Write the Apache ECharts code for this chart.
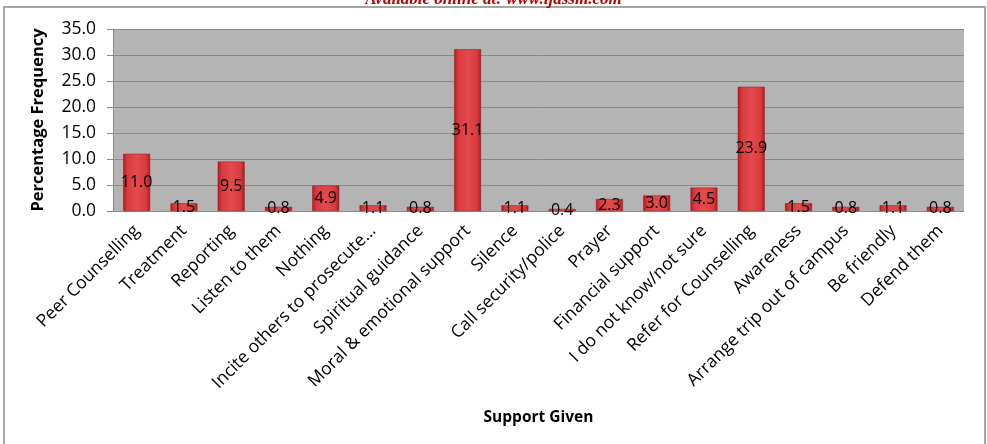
<!DOCTYPE html>
<html lang="en">
<head>
    <meta charset="UTF-8">
    <title>Support Given</title>
    <script src="https://cdnjs.cloudflare.com/ajax/libs/echarts/6.0.0/echarts.min.js"></script>
    <style>
        body { margin: 0; background: #fff; }
        #chart { width: 987px; height: 444px; }
    </style>
</head>
<body>
    <div id="chart"></div>
    <script>
        // categories and percentages
        const categories = [
            'Peer Counselling', 'Treatment', 'Reporting', 'Listen to them', 'Nothing',
            'Incite others to prosecute…', 'Spiritual guidance', 'Moral & emotional support',
            'Silence', 'Call security/police', 'Prayer', 'Financial support',
            'I do not know/not sure', 'Refer for Counselling', 'Awareness',
            'Arrange trip out of campus', 'Be friendly', 'Defend them'
        ];
        const values = [11.0, 1.5, 9.5, 0.8, 4.9, 1.1, 0.8, 31.1, 1.1, 0.4, 2.3, 3.0, 4.5, 23.9, 1.5, 0.8, 1.1, 0.8];

        const chart = echarts.init(document.getElementById('chart'));
        const font = '"Open Sans", Lato, sans-serif';

        const barColor = new echarts.graphic.LinearGradient(0, 0, 1, 0, [
            { offset: 0, color: '#a81c20' },
            { offset: 0.15, color: '#d93a3d' },
            { offset: 0.5, color: '#e24a4c' },
            { offset: 0.85, color: '#d93a3d' },
            { offset: 1, color: '#a81c20' }
        ]);

        chart.setOption({
            animation: false,
            textStyle: { fontFamily: font },
            graphic: [
                {
                    type: 'rect',
                    shape: { x: 4, y: 7, width: 981, height: 450 },
                    style: { fill: 'none', stroke: '#a6a6a6', lineWidth: 2 }
                },
                {
                    type: 'text',
                    left: 'center',
                    top: -9,
                    style: {
                        text: 'Available online at: www.ijassm.com',
                        fill: '#c00000',
                        font: 'italic bold 17px "Liberation Serif", serif'
                    }
                }
            ],
            grid: { left: 113, right: 23, top: 29, bottom: 233 },
            xAxis: {
                type: 'category',
                data: categories,
                name: 'Support Given',
                nameLocation: 'middle',
                nameGap: 199,
                nameTextStyle: { fontWeight: 'bold', fontSize: 15.5, color: '#000' },
                axisLine: { lineStyle: { color: '#8c8c8c' } },
                axisTick: { show: false },
                axisLabel: { rotate: 45, interval: 0, fontSize: 17.5, color: '#000', margin: 17 }
            },
            yAxis: {
                type: 'value',
                min: 0,
                max: 35,
                interval: 5,
                name: 'Percentage Frequency',
                nameLocation: 'middle',
                nameGap: 66,
                nameTextStyle: { fontWeight: 'bold', fontSize: 16.5, color: '#000' },
                axisLine: { show: true, lineStyle: { color: '#8c8c8c' } },
                axisTick: { show: true, length: 6, lineStyle: { color: '#8c8c8c' } },
                axisLabel: { fontSize: 17.5, color: '#000', margin: 17, formatter: v => v.toFixed(1) },
                splitLine: { lineStyle: { color: '#8a8a8a', width: 1 } },
                splitArea: { show: true, areaStyle: { color: ['#b4b4b4', '#b4b4b4'] } }
            },
            series: [{
                type: 'bar',
                data: values,
                barWidth: '57%',
                itemStyle: { color: barColor, borderColor: '#9a1a1d', borderWidth: 0.5 },
                label: {
                    show: true,
                    position: 'inside',
                    color: '#000',
                    fontSize: 16,
                    formatter: p => p.value.toFixed(1)
                }
            }]
        });
        window.addEventListener('resize', () => chart.resize());
    </script>
</body>
</html>
